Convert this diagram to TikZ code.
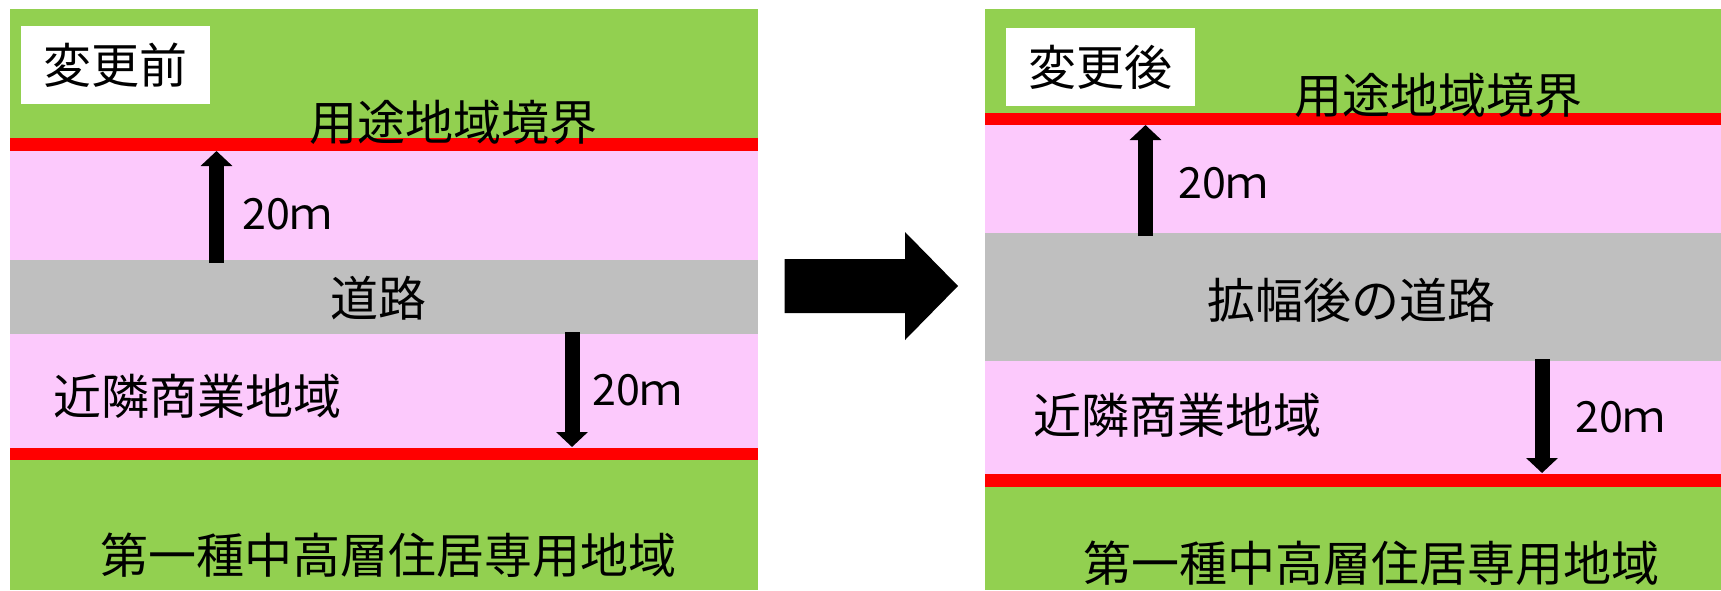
\documentclass[tikz,border=0pt]{standalone}
\usepackage{fontspec}
\setmainfont{Noto Sans CJK JP}
\usetikzlibrary{arrows.meta}
\definecolor{zonegreen}{HTML}{92D050}
\definecolor{zonepink}{HTML}{FCC9FC}
\definecolor{roadgray}{HTML}{BFBFBF}
\definecolor{lineRed}{HTML}{FF0000}

\begin{document}
\begin{tikzpicture}[x=1pt,y=-1pt,
  lbl/.style={font=\fontsize{48}{50}\selectfont,inner sep=0pt},
  dist/.style={font=\fontsize{43}{45}\selectfont,inner sep=0pt,anchor=west},
  tagbox/.style={fill=white,minimum width=189pt,minimum height=78pt,inner sep=0pt,
    font=\fontsize{48}{50}\selectfont},
  widtharrow/.style={line width=15pt,-{Triangle[length=15pt,width=31pt]}}]
\useasboundingbox (0,0) rectangle (1721,590);
% Left (before)
\fill[zonegreen] (10,9) rectangle (758,590);
\fill[lineRed] (10,138) rectangle (758,151);
\fill[zonepink] (10,151) rectangle (758,260);
\fill[roadgray] (10,260) rectangle (758,334);
\fill[zonepink] (10,334) rectangle (758,448);
\fill[lineRed] (10,448) rectangle (758,460);
\node[tagbox] (tagL) at (115.5,65) {変更前};
\node[lbl] (bndL) at (453,122) {用途地域境界};
\node[lbl] (roadL) at (378,298) {道路};
\node[lbl,anchor=west] (shopL) at (53,396) {近隣商業地域};
\node[lbl] (resL) at (388,555) {第一種中高層住居専用地域};
\coordinate (upLa) at (216.5,263);
\coordinate (upLb) at (216.5,151);
\coordinate (dnLa) at (572,332);
\coordinate (dnLb) at (572,447);
\draw[widtharrow] (upLa) -- (upLb);
\draw[widtharrow] (dnLa) -- (dnLb);
\node[dist] (mUpL) at (242,214) {20ｍ};
\node[dist] (mDnL) at (592,390) {20ｍ};
% change arrow
\fill (784.5,259) -- (905,259) -- (905,232) -- (958,286) -- (905,340) -- (905,313) -- (784.5,313) -- cycle;
% Right (after)
\fill[zonegreen] (985,9) rectangle (1721,590);
\fill[lineRed] (985,113) rectangle (1721,125);
\fill[zonepink] (985,125) rectangle (1721,233);
\fill[roadgray] (985,233) rectangle (1721,361);
\fill[zonepink] (985,361) rectangle (1721,474);
\fill[lineRed] (985,474) rectangle (1721,487);
\node[tagbox] (tagR) at (1100.5,67) {変更後};
\node[lbl] (bndR) at (1438,95) {用途地域境界};
\node[lbl] (roadR) at (1351,300) {拡幅後の道路};
\node[lbl,anchor=west] (shopR) at (1033,415) {近隣商業地域};
\node[lbl] (resR) at (1371,563) {第一種中高層住居専用地域};
\coordinate (upRa) at (1145.5,236);
\coordinate (upRb) at (1145.5,125);
\coordinate (dnRa) at (1542,359);
\coordinate (dnRb) at (1542,473);
\draw[widtharrow] (upRa) -- (upRb);
\draw[widtharrow] (dnRa) -- (dnRb);
\node[dist] (mUpR) at (1178,183) {20ｍ};
\node[dist] (mDnR) at (1575,417) {20ｍ};
\end{tikzpicture}
\end{document}
